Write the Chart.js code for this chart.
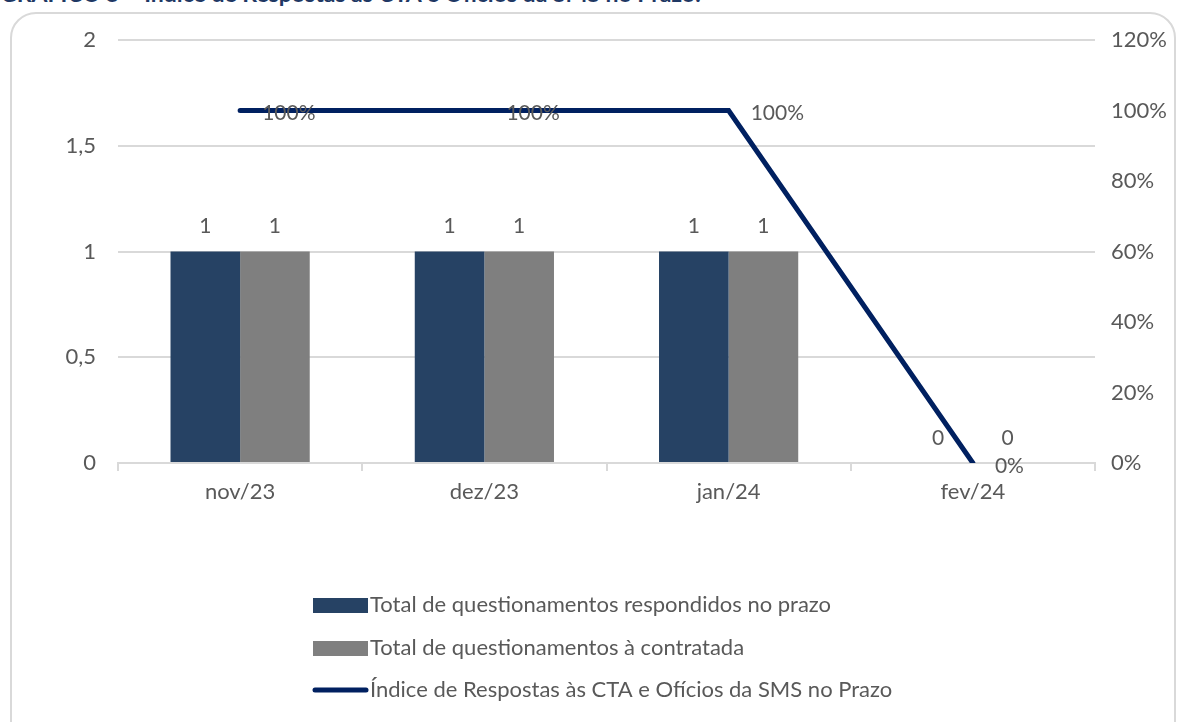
<!DOCTYPE html>
<html lang="pt">
<head>
  <meta charset="UTF-8" />
  <title>Gráfico 5</title>
  <script src="https://cdn.jsdelivr.net/npm/chart.js"></script>
  <style>
    html, body { margin: 0; padding: 0; background: #fff; overflow: hidden; }
    body { width: 1178px; height: 722px; position: relative; font-family: Lato, "Noto Sans", sans-serif; }
    .title {
      position: absolute; left: 0; top: -21px; white-space: nowrap; line-height: 28px;
      font: bold 23px Lato, sans-serif; color: #1F3864;
    }
    .frame {
      position: absolute; left: 10px; top: 12px; width: 1166px; height: 740px;
      border: 2px solid #D9D9D9; border-radius: 26px; box-sizing: border-box;
    }
    #wrap { position: absolute; left: 0; top: 0; width: 1178px; height: 722px; }
  </style>
</head>
<body>
  <div class="title">GRÁFICO 5 – Índice de Respostas às CTA e Ofícios da SMS no Prazo:</div>
  <div class="frame"></div>
  <div id="wrap"><canvas id="chart"></canvas></div>

<script>
  // data
  const months = ["nov/23", "dez/23", "jan/24", "fev/24"];
  const respondidos = [1, 1, 1, 0];
  const contratada = [1, 1, 1, 0];
  const indice = [1, 1, 1, 0]; // 100% = 1
  const leftTicks = [0, 0.5, 1, 1.5, 2];
  const rightTicks = [0, 0.2, 0.4, 0.6, 0.8, 1, 1.2];

  const NAVY = "#002060";
  const BAR1 = "#264264";
  const BAR2 = "#7F7F7F";
  const TXT = "#595959";
  const GRID = "#D9D9D9";
  const FONT = "Lato";

  const fmt = v => String(v).replace(".", ",");
  const pct = v => Math.round(v * 100) + "%";

  // value labels on bars and line
  const valueLabels = {
    id: "valueLabels",
    afterDatasetsDraw(chart) {
      const ctx = chart.ctx;
      ctx.save();
      ctx.font = "21px " + FONT;
      ctx.fillStyle = TXT;
      chart.data.datasets.forEach((ds, i) => {
        const meta = chart.getDatasetMeta(i);
        meta.data.forEach((el, j) => {
          const v = ds.data[j];
          if (ds.type === "line") {
            ctx.textAlign = "left";
            ctx.textBaseline = "middle";
            ctx.fillText(pct(v), el.x + 22, el.y + 3);
          } else {
            ctx.textAlign = "center";
            ctx.textBaseline = "middle";
            ctx.fillText(fmt(v), el.x, el.y - 25);
          }
        });
      });
      ctx.restore();
    }
  };

  // vertical legend, left aligned
  const sideLegend = {
    id: "sideLegend",
    afterDraw(chart) {
      const ctx = chart.ctx;
      const x0 = 313, rows = [605, 648, 690];
      ctx.save();
      ctx.font = "22px " + FONT;
      ctx.textBaseline = "middle";
      ctx.textAlign = "left";
      chart.data.datasets.forEach((ds, i) => {
        const y = rows[i];
        if (ds.type === "line") {
          ctx.strokeStyle = ds.borderColor;
          ctx.lineWidth = 5;
          ctx.lineCap = "round";
          ctx.beginPath();
          ctx.moveTo(x0 + 2, y);
          ctx.lineTo(x0 + 53, y);
          ctx.stroke();
        } else {
          ctx.fillStyle = ds.backgroundColor;
          ctx.fillRect(x0, y - 7, 55, 15);
        }
        ctx.fillStyle = TXT;
        ctx.fillText(ds.label, x0 + 57, y);
      });
      ctx.restore();
    }
  };

  new Chart(document.getElementById("chart"), {
    data: {
      labels: months,
      datasets: [
        { type: "bar", label: "Total de questionamentos respondidos no prazo", data: respondidos,
          backgroundColor: BAR1, yAxisID: "y", order: 1 },
        { type: "bar", label: "Total de questionamentos à contratada", data: contratada,
          backgroundColor: BAR2, yAxisID: "y", order: 1 },
        { type: "line", label: "Índice de Respostas às CTA e Ofícios da SMS no Prazo", data: indice,
          borderColor: NAVY, backgroundColor: NAVY, borderWidth: 5, pointRadius: 0,
          borderCapStyle: "round", borderJoinStyle: "miter", tension: 0, yAxisID: "y2", order: 0 }
      ]
    },
    options: {
      responsive: true,
      maintainAspectRatio: false,
      animation: false,
      layout: { padding: { top: 40, left: 0, right: 0, bottom: 0 } },
      datasets: { bar: { categoryPercentage: 0.57, barPercentage: 1 } },
      plugins: { legend: { display: false }, tooltip: { enabled: false } },
      scales: {
        x: {
          grid: { display: true, drawOnChartArea: false, offset: true, color: GRID, lineWidth: 2, tickLength: 8 },
          border: { color: GRID, width: 2 },
          ticks: { color: TXT, font: { family: FONT, size: 22 }, padding: 8 },
          afterFit: s => { s.height = 259; }
        },
        y: {
          position: "left", min: 0, max: 2,
          afterBuildTicks: s => { s.ticks = leftTicks.map(v => ({ value: v })); },
          grid: { color: GRID, lineWidth: 2, drawTicks: false },
          border: { display: false },
          ticks: { color: TXT, font: { family: FONT, size: 22 }, padding: 22, callback: v => fmt(v) },
          afterFit: s => { s.width = 118; }
        },
        y2: {
          position: "right", min: 0, max: 1.2,
          afterBuildTicks: s => { s.ticks = rightTicks.map(v => ({ value: v })); },
          grid: { display: false, drawTicks: false },
          border: { display: false },
          ticks: { color: TXT, font: { family: FONT, size: 22 }, padding: 16, callback: v => pct(v) },
          afterFit: s => { s.width = 83; }
        }
      }
    },
    plugins: [valueLabels, sideLegend]
  });
</script>
</body>
</html>
